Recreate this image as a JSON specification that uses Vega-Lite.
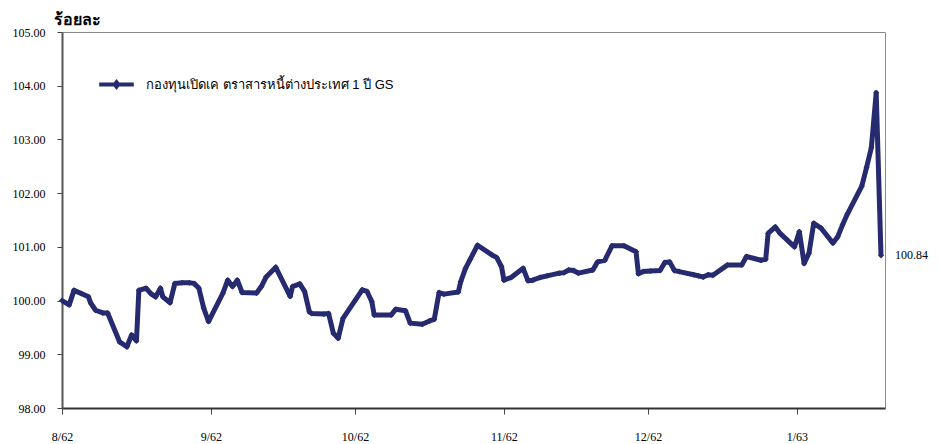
{
  "$schema": "https://vega.github.io/schema/vega-lite/v6.json",
  "autosize": {"type": "none"},
  "width": 823,
  "height": 376,
  "padding": {"left": 62, "top": 32, "right": 55, "bottom": 36},
  "background": "white",
  "config": {
    "view": {"stroke": "#8a8a8a", "strokeWidth": 1},
    "font": "Liberation Sans"
  },
  "data": {"values": [
    {"date": "2019-08-01T00:00", "value": 100.00},
    {"date": "2019-08-02T12:00", "value": 99.92},
    {"date": "2019-08-03T12:00", "value": 100.19},
    {"date": "2019-08-05T00:00", "value": 100.13},
    {"date": "2019-08-06T12:00", "value": 100.07},
    {"date": "2019-08-07T00:00", "value": 99.95},
    {"date": "2019-08-08T00:00", "value": 99.82},
    {"date": "2019-08-09T12:00", "value": 99.77},
    {"date": "2019-08-10T12:00", "value": 99.77},
    {"date": "2019-08-13T00:00", "value": 99.23},
    {"date": "2019-08-14T12:00", "value": 99.14},
    {"date": "2019-08-15T12:00", "value": 99.36},
    {"date": "2019-08-16T12:00", "value": 99.25},
    {"date": "2019-08-17T00:00", "value": 100.19},
    {"date": "2019-08-18T12:00", "value": 100.23},
    {"date": "2019-08-19T12:00", "value": 100.13},
    {"date": "2019-08-20T12:00", "value": 100.07},
    {"date": "2019-08-21T12:00", "value": 100.23},
    {"date": "2019-08-22T00:00", "value": 100.07},
    {"date": "2019-08-23T12:00", "value": 99.96},
    {"date": "2019-08-24T12:00", "value": 100.32},
    {"date": "2019-08-26T00:00", "value": 100.33},
    {"date": "2019-08-27T12:00", "value": 100.33},
    {"date": "2019-08-28T12:00", "value": 100.32},
    {"date": "2019-08-29T12:00", "value": 100.23},
    {"date": "2019-08-30T12:00", "value": 99.86},
    {"date": "2019-08-31T12:00", "value": 99.61},
    {"date": "2019-09-03T12:00", "value": 100.14},
    {"date": "2019-09-04T12:00", "value": 100.38},
    {"date": "2019-09-05T12:00", "value": 100.26},
    {"date": "2019-09-06T12:00", "value": 100.38},
    {"date": "2019-09-07T12:00", "value": 100.15},
    {"date": "2019-09-10T12:00", "value": 100.14},
    {"date": "2019-09-11T12:00", "value": 100.26},
    {"date": "2019-09-12T12:00", "value": 100.44},
    {"date": "2019-09-14T12:00", "value": 100.62},
    {"date": "2019-09-17T12:00", "value": 100.08},
    {"date": "2019-09-18T00:00", "value": 100.26},
    {"date": "2019-09-19T12:00", "value": 100.31},
    {"date": "2019-09-20T12:00", "value": 100.17},
    {"date": "2019-09-21T12:00", "value": 99.79},
    {"date": "2019-09-22T00:00", "value": 99.76},
    {"date": "2019-09-24T12:00", "value": 99.75},
    {"date": "2019-09-25T12:00", "value": 99.76},
    {"date": "2019-09-26T12:00", "value": 99.39},
    {"date": "2019-09-27T12:00", "value": 99.30},
    {"date": "2019-09-28T12:00", "value": 99.67},
    {"date": "2019-10-02T12:00", "value": 100.20},
    {"date": "2019-10-03T12:00", "value": 100.17},
    {"date": "2019-10-04T12:00", "value": 99.98},
    {"date": "2019-10-05T00:00", "value": 99.73},
    {"date": "2019-10-08T12:00", "value": 99.73},
    {"date": "2019-10-09T12:00", "value": 99.84},
    {"date": "2019-10-11T12:00", "value": 99.81},
    {"date": "2019-10-12T12:00", "value": 99.58},
    {"date": "2019-10-15T00:00", "value": 99.56},
    {"date": "2019-10-16T12:00", "value": 99.62},
    {"date": "2019-10-17T12:00", "value": 99.65},
    {"date": "2019-10-18T12:00", "value": 100.15},
    {"date": "2019-10-19T12:00", "value": 100.12},
    {"date": "2019-10-22T12:00", "value": 100.16},
    {"date": "2019-10-23T00:00", "value": 100.35},
    {"date": "2019-10-24T00:00", "value": 100.60},
    {"date": "2019-10-25T00:00", "value": 100.77},
    {"date": "2019-10-26T12:00", "value": 101.03},
    {"date": "2019-10-29T12:00", "value": 100.85},
    {"date": "2019-10-30T12:00", "value": 100.80},
    {"date": "2019-10-31T12:00", "value": 100.63},
    {"date": "2019-11-01T00:00", "value": 100.38},
    {"date": "2019-11-02T12:00", "value": 100.43},
    {"date": "2019-11-05T00:00", "value": 100.60},
    {"date": "2019-11-06T00:00", "value": 100.37},
    {"date": "2019-11-07T00:00", "value": 100.38},
    {"date": "2019-11-08T12:00", "value": 100.43},
    {"date": "2019-11-10T00:00", "value": 100.46},
    {"date": "2019-11-12T12:00", "value": 100.51},
    {"date": "2019-11-13T12:00", "value": 100.52},
    {"date": "2019-11-14T12:00", "value": 100.57},
    {"date": "2019-11-15T12:00", "value": 100.56},
    {"date": "2019-11-16T12:00", "value": 100.51},
    {"date": "2019-11-19T12:00", "value": 100.57},
    {"date": "2019-11-20T12:00", "value": 100.72},
    {"date": "2019-11-22T00:00", "value": 100.75},
    {"date": "2019-11-23T12:00", "value": 101.02},
    {"date": "2019-11-26T00:00", "value": 101.02},
    {"date": "2019-11-28T12:00", "value": 100.91},
    {"date": "2019-11-29T00:00", "value": 100.50},
    {"date": "2019-11-30T00:00", "value": 100.54},
    {"date": "2019-12-01T12:00", "value": 100.55},
    {"date": "2019-12-03T12:00", "value": 100.56},
    {"date": "2019-12-04T12:00", "value": 100.71},
    {"date": "2019-12-05T12:00", "value": 100.72},
    {"date": "2019-12-06T12:00", "value": 100.56},
    {"date": "2019-12-07T12:00", "value": 100.54},
    {"date": "2019-12-10T12:00", "value": 100.48},
    {"date": "2019-12-11T12:00", "value": 100.46},
    {"date": "2019-12-12T12:00", "value": 100.44},
    {"date": "2019-12-13T12:00", "value": 100.48},
    {"date": "2019-12-14T12:00", "value": 100.47},
    {"date": "2019-12-17T12:00", "value": 100.66},
    {"date": "2019-12-20T12:00", "value": 100.66},
    {"date": "2019-12-21T12:00", "value": 100.82},
    {"date": "2019-12-24T12:00", "value": 100.75},
    {"date": "2019-12-25T12:00", "value": 100.77},
    {"date": "2019-12-26T00:00", "value": 101.25},
    {"date": "2019-12-27T12:00", "value": 101.37},
    {"date": "2019-12-28T12:00", "value": 101.25},
    {"date": "2019-12-31T12:00", "value": 101.00},
    {"date": "2020-01-01T12:00", "value": 101.28},
    {"date": "2020-01-02T12:00", "value": 100.69},
    {"date": "2020-01-03T12:00", "value": 100.88},
    {"date": "2020-01-04T12:00", "value": 101.44},
    {"date": "2020-01-06T00:00", "value": 101.35},
    {"date": "2020-01-08T12:00", "value": 101.07},
    {"date": "2020-01-09T12:00", "value": 101.19},
    {"date": "2020-01-10T12:00", "value": 101.41},
    {"date": "2020-01-11T12:00", "value": 101.61},
    {"date": "2020-01-14T12:00", "value": 102.13},
    {"date": "2020-01-15T12:00", "value": 102.48},
    {"date": "2020-01-16T12:00", "value": 102.85},
    {"date": "2020-01-17T12:00", "value": 103.87},
    {"date": "2020-01-18T12:00", "value": 100.84}
  ]},
  "encoding": {
    "x": {
      "field": "date", "type": "temporal",
      "scale": {"domain": [{"year": 2019, "month": 8, "date": 1}, {"year": 2020, "month": 1, "date": 19, "hours": 8}]},
      "axis": {
        "title": null,
        "values": [
          {"year": 2019, "month": 8, "date": 1},
          {"year": 2019, "month": 9, "date": 1},
          {"year": 2019, "month": 10, "date": 1},
          {"year": 2019, "month": 11, "date": 1},
          {"year": 2019, "month": 12, "date": 1},
          {"year": 2020, "month": 1, "date": 1}
        ],
        "labelExpr": "(month(datum.value)+1) + '/' + ((year(datum.value)+543)%100)",
        "labelFont": "Liberation Serif", "labelFontSize": 12, "labelColor": "#000",
        "tickSize": 6, "tickColor": "#444", "tickWidth": 1,
        "domainColor": "#333", "domainWidth": 2,
        "labelPadding": 17, "grid": false, "labelFlush": false
      }
    },
    "y": {
      "field": "value", "type": "quantitative",
      "scale": {"domain": [98, 105], "nice": false, "zero": false},
      "axis": {
        "values": [98, 99, 100, 101, 102, 103, 104, 105],
        "format": ".2f",
        "title": "ร้อยละ",
        "titleAngle": 0, "titleAlign": "left", "titleBaseline": "alphabetic",
        "titleX": -9, "titleY": -8,
        "titleFont": "Liberation Sans", "titleFontSize": 16, "titleFontWeight": "bold", "titleColor": "#000",
        "labelFont": "Liberation Serif", "labelFontSize": 12, "labelColor": "#000",
        "tickSize": 5, "tickColor": "#444",
        "domainColor": "#555", "domainWidth": 2,
        "labelPadding": 12, "grid": false
      }
    }
  },
  "layer": [
    {
      "mark": {"type": "line", "strokeWidth": 5, "strokeJoin": "round"},
      "encoding": {
        "color": {
          "datum": "กองทุนเปิดเค ตราสารหนี้ต่างประเทศ 1 ปี GS",
          "type": "nominal",
          "scale": {"range": ["#262a6f"]},
          "legend": {
            "title": null,
            "orient": "none", "legendX": 35, "legendY": 33,
            "symbolType": "M-1,0H1M0,-0.13L0.1,0L0,0.13L-0.1,0Z",
            "symbolSize": 1200, "symbolStrokeWidth": 4,
            "symbolFillColor": "#262a6f", "symbolStrokeColor": "#262a6f",
            "labelFont": "Liberation Sans", "labelFontSize": 13, "labelColor": "#000",
            "labelOffset": 10, "labelLimit": 500
          }
        }
      }
    },
    {
      "mark": {"type": "point", "shape": "diamond", "filled": true, "size": 36, "color": "#262a6f", "opacity": 1}
    },
    {
      "transform": [{"filter": "datum.value == 100.84"}],
      "mark": {"type": "text", "align": "left", "baseline": "middle", "dx": 14, "font": "Liberation Serif", "fontSize": 12, "color": "#000"},
      "encoding": {"text": {"field": "value", "type": "quantitative", "format": ".2f"}}
    }
  ]
}
